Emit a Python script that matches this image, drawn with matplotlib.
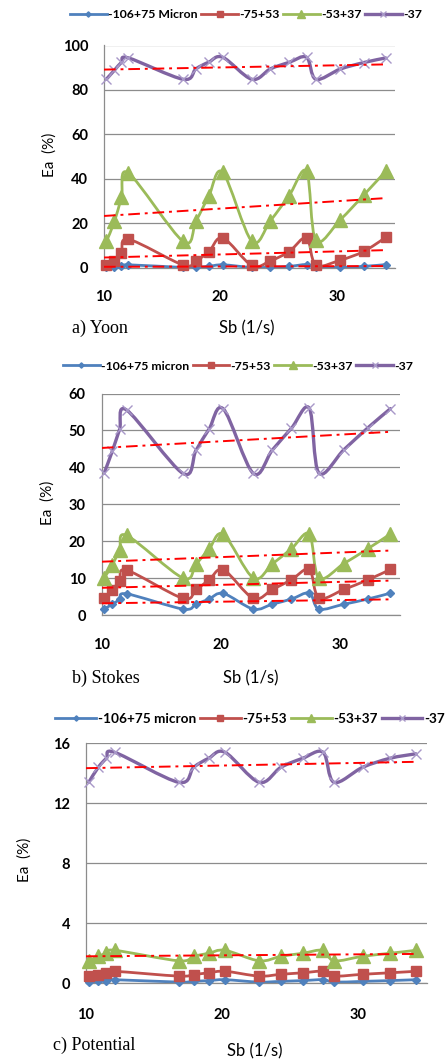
import numpy as np
import matplotlib
matplotlib.use("Agg")
import matplotlib.pyplot as plt
from matplotlib.path import Path
from matplotlib.patches import PathPatch
from matplotlib.lines import Line2D

# ------------------------------------------------------------------ data
sb = [10.2, 10.9, 11.5, 12.1, 16.8, 17.9, 19.0, 20.2,
      22.7, 24.3, 25.9, 27.4, 28.2, 30.3, 32.3, 34.2]

yoon_106 = [0.1, 0.2, 0.6, 1.3, 0.1, 0.2, 0.6, 1.3,
            0.1, 0.2, 0.6, 1.4, 0.1, 0.2, 0.6, 1.4]
yoon_75 = [1.2, 2.9, 6.6, 12.8, 1.2, 3.2, 7.0, 13.4,
           1.0, 3.1, 7.2, 13.5, 1.2, 3.4, 7.3, 13.6]
yoon_53 = [11.8, 20.8, 31.8, 42.6, 11.8, 21.0, 32.2, 42.9,
           11.9, 21.2, 32.4, 43.3, 12.3, 21.6, 32.6, 43.4]
yoon_37 = [84.8, 88.9, 92.4, 94.4, 84.8, 89.5, 92.5, 94.7,
           84.8, 89.5, 92.4, 94.7, 84.8, 89.4, 92.3, 94.4]

stokes_106 = [1.7, 3.0, 4.3, 5.8, 1.7, 3.0, 4.4, 5.9,
              1.7, 3.0, 4.4, 6.0, 1.7, 3.0, 4.4, 6.0]
stokes_75 = [4.6, 6.9, 9.4, 12.2, 4.6, 7.0, 9.5, 12.3,
             4.6, 7.0, 9.6, 12.4, 4.7, 7.0, 9.6, 12.4]
stokes_53 = [10.1, 13.7, 17.7, 21.6, 10.1, 13.8, 17.9, 21.9,
             10.1, 13.9, 18.0, 22.0, 10.1, 14.0, 18.0, 22.0]
stokes_37 = [38.4, 44.5, 50.3, 55.5, 38.4, 44.6, 50.4, 55.8,
             38.4, 44.7, 50.6, 56.0, 38.5, 44.8, 50.7, 55.9]

pot_106 = [0.08, 0.13, 0.18, 0.24, 0.08, 0.13, 0.18, 0.24,
           0.08, 0.13, 0.18, 0.24, 0.08, 0.13, 0.18, 0.24]
pot_75 = [0.48, 0.58, 0.70, 0.80, 0.48, 0.58, 0.70, 0.80,
          0.48, 0.60, 0.70, 0.80, 0.48, 0.60, 0.70, 0.80]
pot_53 = [1.5, 1.8, 2.0, 2.2, 1.5, 1.8, 2.0, 2.2,
          1.5, 1.8, 2.0, 2.2, 1.5, 1.8, 2.0, 2.2]
pot_37 = [13.4, 14.4, 15.0, 15.4, 13.4, 14.4, 15.0, 15.4,
          13.4, 14.4, 15.0, 15.4, 13.4, 14.4, 15.0, 15.3]

labels_a = ["-106+75 Micron", "-75+53", "-53+37", "-37"]
labels_bc = ["-106+75 micron", "-75+53", "-53+37", "-37"]

# ------------------------------------------------------------------ style
BLUE = "#4F81BD"
RED = "#C0504D"
GREEN = "#9BBB59"
PURPLE = "#8064A2"
LILAC = "#A898C8"
GRID = "#8C8C8C"
SANS = "Lato"

STYLES = [
    dict(color=BLUE, marker="D", ms=4.5, lw=2.0, mfc=BLUE, mec=BLUE),
    dict(color=RED, marker="s", ms=7.5, lw=2.0, mfc=RED, mec=RED),
    dict(color=GREEN, marker="^", ms=9.5, lw=2.0, mfc=GREEN, mec=GREEN),
    dict(color=PURPLE, marker="x", ms=7.5, lw=2.4, mfc=LILAC, mec=LILAC),
]

W, H = 445, 1059
fig = plt.figure(figsize=(W / 100, H / 100), dpi=100)


def fx(px):
    return px / W


def fy(py):
    return 1 - py / H


def smooth_path(x, y):
    """Excel-like smoothed line: cubic Bezier segments (Catmull-Rom)."""
    pts = np.column_stack([x, y]).astype(float)
    n = len(pts)
    verts = [pts[0]]
    codes = [Path.MOVETO]
    for i in range(n - 1):
        p0 = pts[max(i - 1, 0)]
        p1 = pts[i]
        p2 = pts[i + 1]
        p3 = pts[min(i + 2, n - 1)]
        verts += [p1 + (p2 - p0) / 6, p2 - (p3 - p1) / 6, p2]
        codes += [Path.CURVE4] * 3
    return Path(verts, codes)


def panel(rect, series, ymax, ystep, trend_on, ypad, xpad):
    ax = fig.add_axes(rect)
    x = np.array(sb)
    for y, st in zip(series, STYLES):
        ax.add_patch(PathPatch(smooth_path(x, y), fill=False,
                               edgecolor=st["color"], lw=st["lw"],
                               joinstyle="round", capstyle="round",
                               zorder=2, clip_on=False))
        ax.plot(x, y, ls="none", marker=st["marker"], ms=st["ms"],
                mfc=st["mfc"], mec=st["mec"], mew=1.0, zorder=3,
                clip_on=False)
    for y, on in zip(series, trend_on):
        if not on:
            continue
        k, b = np.polyfit(x, y, 1)
        xt = np.array([x.min() - 0.2, x.max()])
        ax.plot(xt, k * xt + b, color="#FF0000", lw=1.4,
                ls=(0, (6, 2.5, 1.5, 2.5)), zorder=5)
    ax.set_xlim(10, 35)
    ax.set_ylim(0, ymax)
    ax.set_xticks([10, 20, 30])
    ax.set_yticks(np.arange(0, ymax + 0.1, ystep))
    ax.yaxis.grid(True, color=GRID, lw=0.9)
    ax.set_axisbelow(True)
    for s in ["top", "right"]:
        ax.spines[s].set_visible(False)
    for s in ["left", "bottom"]:
        ax.spines[s].set_color(GRID)
        ax.spines[s].set_linewidth(0.9)
    ax.tick_params(axis="y", length=0, pad=ypad)
    ax.tick_params(axis="x", length=0, pad=xpad)
    for t in ax.get_xticklabels() + ax.get_yticklabels():
        t.set_fontfamily(SANS)
        t.set_fontweight("bold")
        t.set_fontsize(10.5)
    return ax


def legend(cx, cy, labels, fs):
    handles = [Line2D([], [], color=st["color"], lw=st["lw"],
                      marker=st["marker"], ms=st["ms"] * 0.6,
                      mfc=st["mfc"], mec=st["mec"]) for st in STYLES]
    fig.legend(handles, labels, loc="center",
               bbox_to_anchor=(fx(cx), fy(cy)), ncol=4, frameon=False,
               handlelength=3.0, handletextpad=0.1, columnspacing=0.3,
               prop=dict(family=SANS, weight="bold", size=fs),
               borderaxespad=0, borderpad=0)


def texts(ylab_xy, cap_xy, cap, sb_xy):
    fig.text(fx(ylab_xy[0]), fy(ylab_xy[1]), "Ea  (%)", rotation=90,
             ha="center", va="center", family=SANS, fontsize=11)
    fig.text(fx(cap_xy[0]), fy(cap_xy[1]), cap, ha="left", va="center",
             family="Liberation Serif", fontsize=13)
    fig.text(fx(sb_xy[0]), fy(sb_xy[1]), "Sb (1/s)", ha="center",
             va="center", family=SANS, fontsize=12)


# a) Yoon
panel([fx(104), fy(267.7), fx(395 - 104), (267.7 - 45.5) / H],
      [yoon_106, yoon_75, yoon_53, yoon_37], 100, 20,
      [True, True, True, True], 11.5, 16)
legend(246, 15, labels_a, 8.8)
texts((50, 155), (72, 328), "a) Yoon", (247, 328))

# b) Stokes
panel([fx(101.7), fy(615.3), fx(400 - 101.7), (615.3 - 393.5) / H],
      [stokes_106, stokes_75, stokes_53, stokes_37], 60, 10,
      [True, True, True, True], 11.5, 16)
legend(238, 366, labels_bc, 8.8)
texts((48, 503), (72, 678), "b) Stokes", (251, 678))

# c) Potential
panel([fx(86), fy(983.3), fx(426.7 - 86), (983.3 - 743.3) / H],
      [pot_106, pot_75, pot_53, pot_37], 16, 4,
      [False, False, True, True], 11.5, 18)
legend(250, 719, labels_bc, 9.8)
texts((25, 860), (53, 1045), "c) Potential", (255, 1051))

fig.savefig("out.png", dpi=100)
